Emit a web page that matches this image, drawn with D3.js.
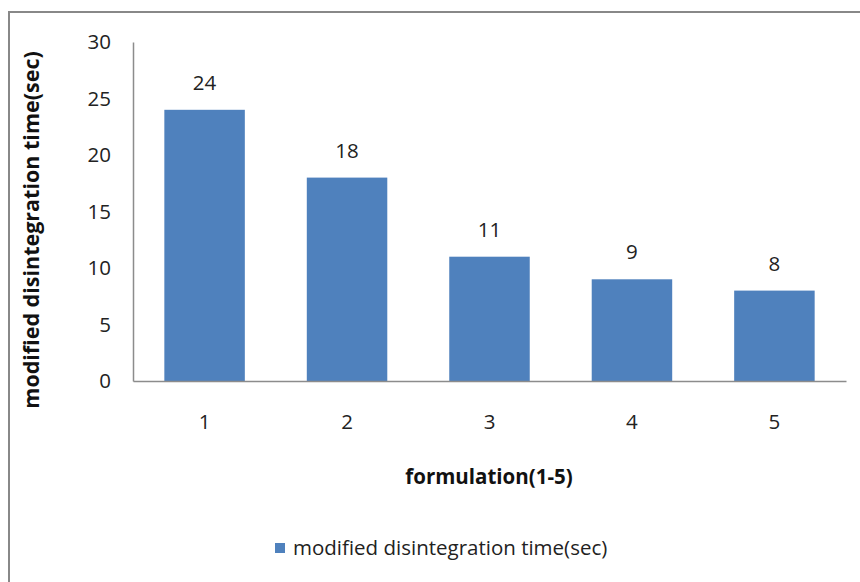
<!DOCTYPE html>
<html>
<head>
<meta charset="utf-8">
<script src="https://cdn.jsdelivr.net/npm/d3@7"></script>
<style>
  html, body { margin: 0; padding: 0; background: #fff; }
  svg { display: block; font-family: "Open Sans", "Noto Sans", sans-serif; }
</style>
</head>
<body>
<svg id="chart" width="860" height="582"></svg>
<script>
// Chart data
const categories = ["1", "2", "3", "4", "5"];
const values = [24, 18, 11, 9, 8];
const yTicks = [0, 5, 10, 15, 20, 25, 30];
const seriesName = "modified disintegration time(sec)";
const xTitle = "formulation(1-5)";
const yTitle = "modified disintegration time(sec)";

const svg = d3.select("#chart");
const barColor = "#4F81BD";
const axisColor = "#8c8c8c";
const textColor = "#222";
const fontSize = 20.5;
const fontFamily = "'Open Sans', 'Noto Sans', sans-serif";

// outer frame
svg.append("rect")
  .attr("x", 9).attr("y", 12)
  .attr("width", 870).attr("height", 600)
  .attr("fill", "none")
  .attr("stroke", "#888")
  .attr("stroke-width", 2);

const plot = { left: 133, right: 846, top: 42, bottom: 381 };

const x = d3.scaleBand()
  .domain(categories)
  .range([plot.left, plot.right])
  .paddingInner(0.435)
  .paddingOuter(0.22);

const y = d3.scaleLinear()
  .domain([0, 30])
  .range([plot.bottom, plot.top]);

// bars
svg.append("g").selectAll("rect")
  .data(values)
  .join("rect")
  .attr("x", (d, i) => x(categories[i]))
  .attr("y", d => y(d))
  .attr("width", x.bandwidth())
  .attr("height", d => y(0) - y(d))
  .attr("fill", barColor);

// value labels
svg.append("g").selectAll("text")
  .data(values)
  .join("text")
  .attr("x", (d, i) => x(categories[i]) + x.bandwidth() / 2)
  .attr("y", d => y(d) - 20)
  .attr("text-anchor", "middle")
  .attr("font-size", fontSize)
  .attr("fill", textColor)
  .text(d => d);

// y axis
const yAxis = svg.append("g")
  .attr("transform", `translate(${plot.left},0)`)
  .call(d3.axisLeft(y).tickValues(yTicks).tickSize(0).tickPadding(22));
yAxis.select(".domain").attr("stroke", axisColor).attr("stroke-width", 1.5);
yAxis.selectAll("text").attr("font-size", fontSize).attr("fill", textColor)
  .attr("font-family", fontFamily);

// x axis
const xAxis = svg.append("g")
  .attr("transform", `translate(0,${plot.bottom})`)
  .call(d3.axisBottom(x).tickSize(0).tickPadding(33));
xAxis.select(".domain").attr("stroke", axisColor).attr("stroke-width", 1.5);
xAxis.selectAll("text").attr("font-size", fontSize).attr("fill", textColor)
  .attr("font-family", fontFamily);

// axis titles
svg.append("text")
  .attr("x", 489).attr("y", 484)
  .attr("text-anchor", "middle")
  .attr("font-size", fontSize).attr("font-weight", "bold").attr("fill", "#111")
  .text(xTitle);

svg.append("text")
  .attr("transform", "translate(39,230) rotate(-90)")
  .attr("text-anchor", "middle")
  .attr("font-size", 21.5).attr("font-weight", "bold").attr("fill", "#111")
  .text(yTitle);

// legend
const legend = svg.append("g").attr("transform", "translate(275,543)");
legend.append("rect").attr("width", 10).attr("height", 10).attr("fill", barColor);
legend.append("text")
  .attr("x", 18).attr("y", 12)
  .attr("font-size", fontSize).attr("fill", textColor)
  .text(seriesName);
</script>
</body>
</html>
